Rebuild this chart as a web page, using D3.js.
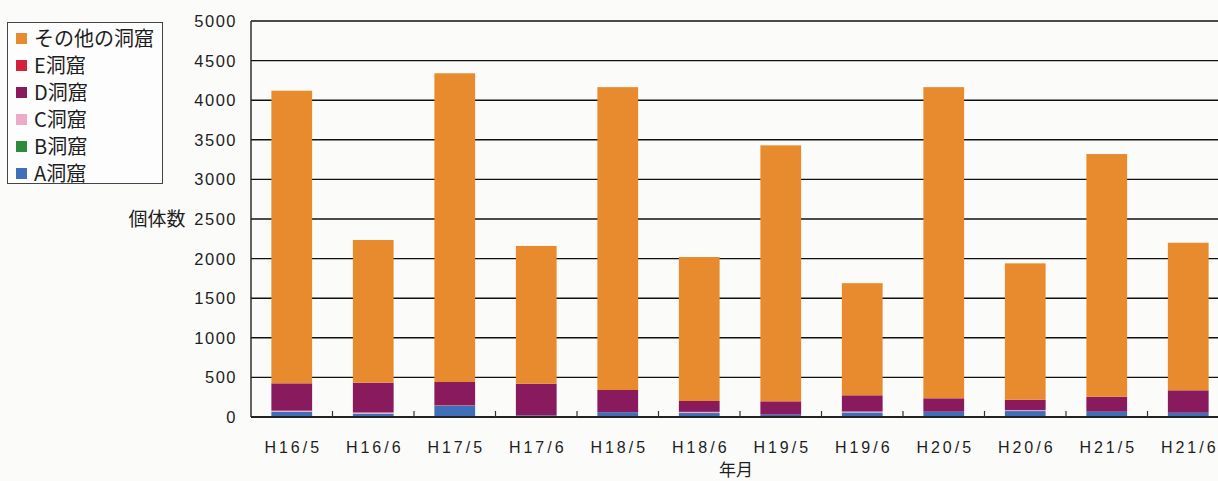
<!DOCTYPE html>
<html>
<head>
<meta charset="utf-8">
<script src="https://cdn.jsdelivr.net/npm/d3@7"></script>
<style>
  html, body { margin: 0; padding: 0; background: #fbfbfa; }
  svg { display: block; }
</style>
</head>
<body>
<svg id="chart" width="1218" height="481"></svg>
<script>
// Survey months (Heisei year / month)
const categories = ["H16/5","H16/6","H17/5","H17/6","H18/5","H18/6","H19/5","H19/6","H20/5","H20/6","H21/5","H21/6"];

// Individuals counted per cave
const caveA  = [65, 42, 140, 20, 60, 50, 30, 57, 67, 75, 67, 54];
const caveB  = [0, 0, 0, 0, 0, 0, 0, 0, 0, 0, 0, 0];
const caveC  = [15, 15, 5, 0, 0, 15, 0, 12, 0, 12, 0, 0];
const caveD  = [345, 376, 297, 400, 281, 137, 168, 205, 169, 131, 189, 283];
const caveE  = [0, 0, 0, 0, 0, 0, 0, 0, 0, 0, 0, 0];
const others = [3695, 1802, 3898, 1740, 3824, 1818, 3232, 1416, 3929, 1722, 3064, 1863];

const seriesNames = ["A洞窟","B洞窟","C洞窟","D洞窟","E洞窟","その他の洞窟"];
const seriesColors = ["#3f6fb8","#2e8b3c","#eeaac8","#8a1a5e","#d2213c","#e88b2e"];
const yTicks = [0, 500, 1000, 1500, 2000, 2500, 3000, 3500, 4000, 4500, 5000];

const seriesValues = [caveA, caveB, caveC, caveD, caveE, others];
const rows = categories.map((c, i) => {
  const r = { cat: c };
  seriesNames.forEach((s, k) => { r[s] = seriesValues[k][i]; });
  return r;
});

const svg = d3.select("#chart");
const plotLeft = 251, plotRight = 1229, plotTop = 21, plotBottom = 417;

const x = d3.scaleBand().domain(categories).range([plotLeft, plotRight])
  .paddingInner(0.5).paddingOuter(0.25);
const y = d3.scaleLinear().domain([0, 5000]).range([plotBottom, plotTop]);

const latin = "'Liberation Sans', Arial, sans-serif";
const cjk = "'Noto Sans CJK JP', 'Noto Sans', sans-serif";

// horizontal gridlines
svg.append("g").selectAll("line")
  .data(yTicks.filter(v => v > 0))
  .join("line")
  .attr("x1", plotLeft).attr("x2", plotRight)
  .attr("y1", d => y(d)).attr("y2", d => y(d))
  .attr("stroke", "#111").attr("stroke-width", 1.4);

// stacked bars
const stack = d3.stack().keys(seriesNames)(rows);
svg.append("g").selectAll("g")
  .data(stack)
  .join("g")
  .attr("fill", (d, i) => seriesColors[i])
  .selectAll("rect")
  .data(d => d)
  .join("rect")
  .attr("x", d => x(d.data.cat))
  .attr("width", x.bandwidth())
  .attr("y", d => y(d[1]))
  .attr("height", d => y(d[0]) - y(d[1]));

// y axis line
svg.append("line")
  .attr("x1", plotLeft).attr("x2", plotLeft).attr("y1", plotTop).attr("y2", plotBottom)
  .attr("stroke", "#222").attr("stroke-width", 1.4);

// x axis with inward ticks at category boundaries
const xAxis = svg.append("g");
xAxis.append("line")
  .attr("x1", plotLeft).attr("x2", plotRight).attr("y1", plotBottom).attr("y2", plotBottom)
  .attr("stroke", "#222").attr("stroke-width", 2);
xAxis.selectAll("line.tick")
  .data(categories.slice(1))
  .join("line")
  .attr("class", "tick")
  .attr("x1", d => x(d) - x.step() * x.paddingInner() / 2)
  .attr("x2", d => x(d) - x.step() * x.paddingInner() / 2)
  .attr("y1", plotBottom).attr("y2", plotBottom - 6)
  .attr("stroke", "#333").attr("stroke-width", 1.2);

// category labels
svg.append("g").selectAll("text")
  .data(categories)
  .join("text")
  .attr("x", d => x(d) + x.bandwidth() / 2 + 1.5)
  .attr("y", 453)
  .attr("text-anchor", "middle")
  .attr("font-family", latin)
  .attr("font-size", 16)
  .attr("letter-spacing", 3)
  .attr("fill", "#1e1e1e")
  .text(d => d);

// value labels
svg.append("g").selectAll("text")
  .data(yTicks)
  .join("text")
  .attr("x", 237)
  .attr("y", d => y(d) + 6)
  .attr("text-anchor", "end")
  .attr("font-family", latin)
  .attr("font-size", 16.5)
  .attr("letter-spacing", 1.5)
  .attr("fill", "#1e1e1e")
  .text(d => d);

// axis titles
svg.append("text")
  .attr("x", 157).attr("y", 226)
  .attr("text-anchor", "middle")
  .attr("font-family", cjk).attr("font-size", 19)
  .attr("fill", "#1e1e1e")
  .text("個体数");
svg.append("text")
  .attr("x", 736).attr("y", 476)
  .attr("text-anchor", "middle")
  .attr("font-family", cjk).attr("font-size", 17)
  .attr("fill", "#1e1e1e")
  .text("年月");

// legend (top entry is the top of the stack)
const legend = svg.append("g");
legend.append("rect")
  .attr("x", 7.5).attr("y", 22.5).attr("width", 155).attr("height", 161)
  .attr("fill", "#fdfdfd").attr("stroke", "#444").attr("stroke-width", 1);
const legendOrder = seriesNames.slice().reverse();
const legendColors = seriesColors.slice().reverse();
const items = legend.selectAll("g.item")
  .data(legendOrder)
  .join("g")
  .attr("class", "item")
  .attr("transform", (d, i) => `translate(0, ${39 + i * 27})`);
items.append("rect")
  .attr("x", 16).attr("y", -6).attr("width", 11).attr("height", 11)
  .attr("fill", (d, i) => legendColors[i]);
items.append("text")
  .attr("x", 34).attr("y", 7)
  .attr("font-family", cjk).attr("font-size", 20)
  .attr("fill", "#1e1e1e")
  .text(d => d);
</script>
</body>
</html>
